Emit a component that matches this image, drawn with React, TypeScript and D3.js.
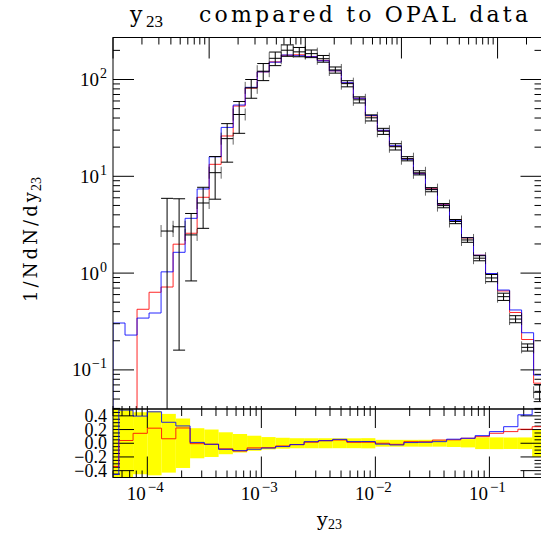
import React from 'react';
import * as d3 from 'd3';

// Binning: equal steps in log10(y23), 8 bins per decade starting at 1e-5
const binStartLog = -5;
const binStepLog = 0.125;
const binCount = 36;
const binEdges = d3.range(binCount + 1).map((i) => Math.pow(10, binStartLog + i * binStepLog));

// 1/N dN/dy23 per bin
const mcBlue = [0.305, 0.229, 0.343, 0.387, 1.03, 1.64, 3.68, 7.4, 15.9, 32.0, 54.5, 83.0, 120, 151, 179, 176, 172, 156, 123, 92.7, 64.0, 42.5, 29.9, 20.7, 15.0, 10.6, 7.35, 5.05, 3.49, 2.33, 1.53, 0.99, 0.668, 0.416, 0.242, 0.0885];
const mcRed = [0, 0, 0.423, 0.634, 0.718, 1.99, 2.58, 6.07, 13.3, 26.1, 53.2, 81.5, 120, 152, 178, 180, 173, 157.5, 123, 92, 64, 42.1, 29.6, 20.5, 15.2, 10.7, 7.45, 5.09, 3.57, 2.31, 1.53, 0.977, 0.654, 0.392, 0.206, 0.0729];
const opalVal = [null, null, null, null, 2.72, 3.01, 2.48, 5.3, 10.9, 24.5, 43.5, 82.0, 121.8, 165.6, 200.7, 193, 185, 164, 125.5, 90.6, 61.7, 40.2, 29.2, 20.2, 15.2, 10.87, 7.28, 4.98, 3.41, 2.2, 1.426, 0.891, 0.571, 0.335, 0.171, 0.0587];
const opalErr = [null, null, null, null, 3.2, 2.85, 1.65, 2.4, 5.1, 10.5, 15.7, 18, 24.4, 26.5, 27.1, 21.2, 16.7, 13.1, 9.2, 6.6, 4.5, 2.9, 2.1, 1.5, 0.76, 0.54, 0.36, 0.25, 0.17, 0.12, 0.086, 0.076, 0.049, 0.028, 0.0145, 0.0117];

// Axis labels
const mainYTicks = [0.1, 1, 10, 100];
const mainYExps = ['\u22121', '0', '1', '2'];
const xLabelTicks = [1e-4, 1e-3, 1e-2, 1e-1];
const xLabelExps = ['\u22124', '\u22123', '\u22122', '\u22121'];
const ratioTicks = [0.4, 0.2, 0, -0.2, -0.4];
const ratioTickText = ['0.4', '0.2', '0.0', '\u22120.2', '\u22120.4'];

const W = 541;
const H = 535;
const L = 113;
const R = 541.5;
const T = 37.5;
const B1 = 409;
const B2 = 477.5;

const xMain = d3.scaleLog().domain([1e-5, 0.2864]).range([L, R]);
const xRatio = d3.scaleLog().domain([5e-5, 0.2864]).range([L, R]);
const yMain = d3.scaleLog().domain([0.03945, 271.6]).range([B1, T]);
const yRatio = d3.scaleLinear().domain([-0.5, 0.5]).range([B2, B1]);

const serif = "'Liberation Serif', 'Times New Roman', serif";
const slab = "'DejaVu Serif', serif";

function logTicks(domain: number[]) {
  const [a, b] = domain;
  const out: { v: number; major: boolean }[] = [];
  for (let k = Math.floor(Math.log10(a)); k <= Math.ceil(Math.log10(b)); k++) {
    for (let m = 1; m <= 9; m++) {
      const v = m * Math.pow(10, k);
      if (v >= a * 0.9999 && v <= b * 1.0001) out.push({ v, major: m === 1 });
    }
  }
  return out;
}

const lineGen = d3.line<[number, number]>();

function mainStep(vals: number[]) {
  const floorY = B1 + 60;
  const pts: [number, number][] = [[xMain(binEdges[0]), floorY]];
  vals.forEach((v, i) => {
    const y = v > 0 ? yMain(v) : floorY;
    pts.push([xMain(binEdges[i]), y], [xMain(binEdges[i + 1]), y]);
  });
  return lineGen(pts) || '';
}

function ratioStep(vals: number[]) {
  const pts: [number, number][] = [];
  vals.forEach((v, i) => {
    const d = opalVal[i];
    if (d == null) return;
    const r = Math.max(-3, Math.min(3, v / d - 1));
    const y = yRatio(r);
    pts.push([xRatio(binEdges[i]), y], [xRatio(binEdges[i + 1]), y]);
  });
  return lineGen(pts) || '';
}

export default function App() {
  const yMainTicks = logTicks(yMain.domain());
  const xMainTicks = logTicks(xMain.domain());
  const xRatioTicks = logTicks(xRatio.domain());
  const ratioMinor = d3.range(-0.5, 0.5001, 0.05).map((v) => Math.round(v * 100) / 100);

  const tickStroke = { stroke: '#000', strokeWidth: 1 };

  return (
    <svg width={W} height={H} style={{ position: 'absolute', left: 0, top: 0, background: '#fff' }}>
      <defs>
        <clipPath id="clipMain">
          <rect x={L} y={T} width={R - L} height={B1 - T} />
        </clipPath>
        <clipPath id="clipRatio">
          <rect x={L} y={B1} width={R - L} height={B2 - B1} />
        </clipPath>
      </defs>

      {/* ratio panel: data uncertainty band */}
      <g clipPath="url(#clipRatio)">
        {opalVal.map((d, i) => {
          if (d == null) return null;
          const rel = (opalErr[i] as number) / d;
          const x0 = xRatio(binEdges[i]);
          const x1 = xRatio(binEdges[i + 1]);
          const y0 = yRatio(Math.min(rel, 2));
          const y1 = yRatio(Math.max(-rel, -2));
          return <rect key={i} x={x0} y={y0} width={x1 - x0} height={y1 - y0} fill="#ffff00" />;
        })}
      </g>

      {/* ratio panel ticks */}
      <g>
        {ratioMinor.map((v, i) => {
          const major = Math.abs(v * 10 - Math.round(v * 10)) < 1e-6 && Math.round(v * 10) % 2 === 0 && Math.abs(v) < 0.5;
          const len = major ? 21 : 7;
          const y = yRatio(v);
          return (
            <g key={i}>
              <line x1={L} x2={L + len} y1={y} y2={y} {...tickStroke} />
              <line x1={R - len} x2={R} y1={y} y2={y} {...tickStroke} />
            </g>
          );
        })}
        {xRatioTicks.map((t, i) => {
          const x = xRatio(t.v);
          return (
            <g key={i}>
              <line x1={x} x2={x} y1={B1 - 3} y2={B1 + (t.major ? 19 : 7)} {...tickStroke} />
              <line x1={x} x2={x} y1={B2} y2={B2 - (t.major ? 21 : 7)} {...tickStroke} />
            </g>
          );
        })}
      </g>

      {/* ratio panel curves */}
      <g clipPath="url(#clipRatio)" fill="none" strokeWidth={1}>
        <path d={ratioStep(mcRed)} stroke="#ff0000" strokeOpacity={0.85} />
        <path d={ratioStep(mcBlue)} stroke="#0000ff" strokeOpacity={0.85} />
      </g>

      {/* main panel histograms */}
      <g clipPath="url(#clipMain)" fill="none" strokeWidth={1}>
        <path d={mainStep(mcRed)} stroke="#ff0000" strokeOpacity={0.85} />
        <path d={mainStep(mcBlue)} stroke="#0000ff" strokeOpacity={0.85} />
      </g>

      {/* main panel data with error bars */}
      <g clipPath="url(#clipMain)" stroke="#000" strokeWidth={1}>
        {opalVal.map((d, i) => {
          if (d == null) return null;
          const e = opalErr[i] as number;
          const lo = binEdges[i];
          const hi = binEdges[i + 1];
          const x0 = xMain(lo);
          const x1 = xMain(hi);
          const cx = xMain(Math.sqrt(lo * hi));
          const y = yMain(d);
          const yTop = yMain(d + e);
          const hasLow = d - e > 0;
          const yBot = hasLow ? yMain(d - e) : B1 + 20;
          return (
            <g key={i}>
              <line x1={x0} x2={x1} y1={y} y2={y} />
              <line x1={x0} x2={x0} y1={y - 6} y2={y + 6} strokeOpacity={0.6} />
              <line x1={x1} x2={x1} y1={y - 6} y2={y + 6} strokeOpacity={0.6} />
              <line x1={cx} x2={cx} y1={yTop} y2={yBot} />
              <line x1={cx - 6} x2={cx + 6} y1={yTop} y2={yTop} />
              {hasLow && <line x1={cx - 6} x2={cx + 6} y1={yBot} y2={yBot} />}
            </g>
          );
        })}
      </g>

      {/* main panel ticks */}
      <g>
        {yMainTicks.map((t, i) => {
          const y = yMain(t.v);
          const len = t.major ? 21 : 7;
          return (
            <g key={i}>
              <line x1={L} x2={L + len} y1={y} y2={y} {...tickStroke} />
              <line x1={R - len} x2={R} y1={y} y2={y} {...tickStroke} />
            </g>
          );
        })}
        {xMainTicks.map((t, i) => {
          const x = xMain(t.v);
          return <line key={i} x1={x} x2={x} y1={T} y2={T + (t.major ? 21 : 7)} {...tickStroke} />;
        })}
      </g>

      {/* frames */}
      <rect x={L} y={T} width={R - L} height={B1 - T} fill="none" stroke="#000" strokeWidth={1} />
      <rect x={L} y={B1} width={R - L} height={B2 - B1} fill="none" stroke="#000" strokeWidth={1} />

      {/* tick labels */}
      <g fontFamily={serif} fill="#000">
        {mainYTicks.map((v, i) => (
          <text key={i} x={107} y={yMain(v) + 6.5} textAnchor="end" fontSize={19}>
            10<tspan dx={1} dy={-8} fontSize={14}>{mainYExps[i]}</tspan>
          </text>
        ))}
        {ratioTicks.map((v, i) => (
          <text key={i} x={107} y={yRatio(v) + 6} textAnchor="end" fontSize={18}>
            {ratioTickText[i]}
          </text>
        ))}
        {xLabelTicks.map((v, i) => (
          <text key={i} x={xRatio(v) - 2} y={500} textAnchor="middle" fontSize={19}>
            10<tspan dx={2} dy={-8} fontSize={15}>{xLabelExps[i]}</tspan>
          </text>
        ))}
      </g>

      {/* title */}
      <g fontFamily={slab} fill="#000">
        <text x={130} y={21.5} fontSize={22}>y</text>
        <text x={146} y={26.5} fontFamily={serif} fontSize={17}>23</text>
        <text x={199} y={21.5} fontSize={22} textLength={329} lengthAdjust="spacing">
          compared to OPAL data
        </text>
      </g>

      {/* axis titles */}
      <g fontFamily={slab} fill="#000">
        <text transform="translate(37,302) rotate(-90)" fontSize={18} textLength={110} lengthAdjust="spacing">
          1/NdN/dy
        </text>
        <text transform="translate(41,191) rotate(-90)" fontFamily={serif} fontSize={14}>
          23
        </text>
        <text x={317} y={526} fontSize={19}>y</text>
        <text x={328} y={529} fontFamily={serif} fontSize={14}>23</text>
      </g>
    </svg>
  );
}
